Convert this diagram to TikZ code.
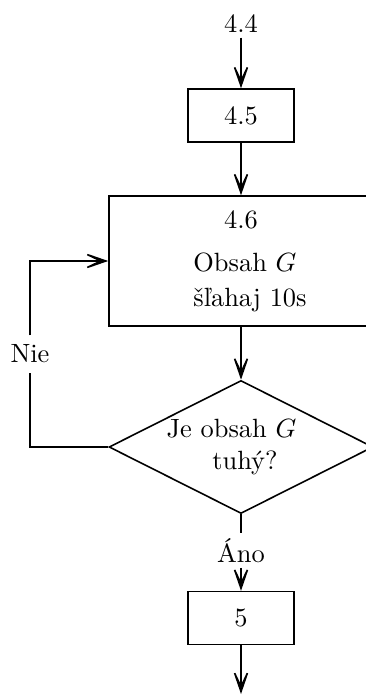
\documentclass[tikz,border=0pt]{standalone}
\usetikzlibrary{shapes.geometric,arrows.meta}
\begin{document}
\begin{tikzpicture}[x=0.3788pt,y=-0.3788pt,
  line width=0.6pt,
  % tip sizes are given in the scaled picture units
  flow/.style={-{Stealth[length=13pt,width=9pt,inset=9.5pt]}},
  stepbox/.style={draw,rectangle,inner sep=0pt,minimum width=40.2pt,minimum height=20pt},
  bigbox/.style={draw,rectangle,inner sep=0pt,minimum width=100pt,minimum height=49.2pt,align=center},
  decision/.style={draw,diamond,aspect=2,inner sep=0pt,minimum width=100pt,minimum height=50.4pt,align=center},
  tag/.style={inner sep=0pt}]
\useasboundingbox (0,0) rectangle (366,695);

% blocks of the flow chart
\node[inner sep=1.5pt] (n44) at (241,24) {4.4};
\node[stepbox] (b45) at (241,115.5) {4.5};
\node[bigbox] (b46) at (241,261)
  {4.6\\[4.3pt]\hspace*{3pt}Obsah $G$\\[1.3pt]\hspace*{6.8pt}šľahaj 10s};
\node[decision] (dec) at (241,447)
  {Je obsah $G$\kern7.2pt\\\hspace*{3pt}tuhý?};
\node[stepbox] (b5) at (241,618) {5};

% branch labels that interrupt their lines
\node (nie) at (30,354) {Nie};
\node[tag,minimum height=12.5pt] (ano) at (241,550.5) {Áno};
\coordinate (out) at (241,694);

% connectors
\draw[flow] (n44.south) -- (b45.north);
\draw[flow] (b45.south) -- (b46.north);
\draw[flow] (b46.south) -- (dec.north);
\draw (dec.west) -| (nie.south);
\draw[flow] (nie.north) |- (b46.west);
\draw (dec.south) -- (ano.north);
\draw[flow] (ano.south) -- (b5.north);
\draw[flow] (b5.south) -- (out);
\end{tikzpicture}
\end{document}
